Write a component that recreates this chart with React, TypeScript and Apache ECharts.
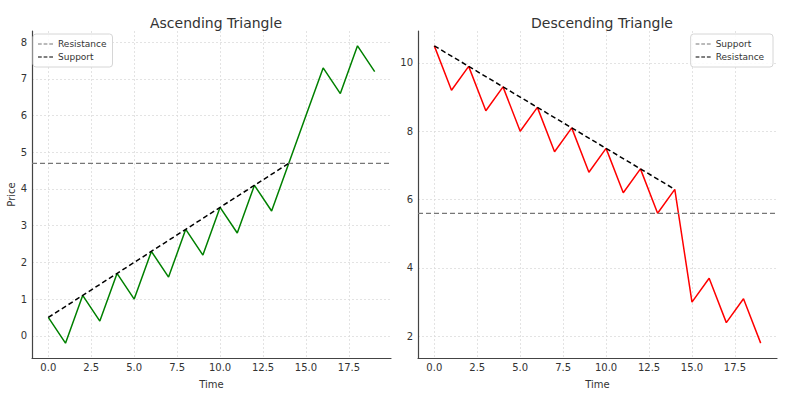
import React, { useEffect, useRef } from "react";
import * as echarts from "echarts";

const time = [0, 1, 2, 3, 4, 5, 6, 7, 8, 9, 10, 11, 12, 13, 14, 15, 16, 17, 18, 19];
const ascPrice = [0.5, -0.2, 1.1, 0.4, 1.7, 1.0, 2.3, 1.6, 2.9, 2.2, 3.5, 2.8, 4.1, 3.4, 4.7, 6.0, 7.3, 6.6, 7.9, 7.2];
const descPrice = [10.5, 9.2, 9.9, 8.6, 9.3, 8.0, 8.7, 7.4, 8.1, 6.8, 7.5, 6.2, 6.9, 5.6, 6.3, 3.0, 3.7, 2.4, 3.1, 1.8];
const ascResistance = 4.7;
const ascSupportStart = [0, 0.5];
const ascSupportEnd = [14, 4.7];
const descSupport = 5.6;
const descResistanceStart = [0, 10.5];
const descResistanceEnd = [14, 6.3];
const xTicks = [0, 2.5, 5, 7.5, 10, 12.5, 15, 17.5];
const ascYTicks = [0, 1, 2, 3, 4, 5, 6, 7, 8];
const descYTicks = [2, 4, 6, 8, 10];

const xMin = -0.95;
const xMax = 19.95;
const ascYMin = -0.605;
const ascYMax = 8.305;
const descYMin = 1.365;
const descYMax = 10.935;

const FONT = "DejaVu Sans";
const TXT = "#333";
const DASH_ICON = "path://M0,0h4v1h-4zM6,0h4v1h-4zM12,0h4v1h-4z";

export default function App() {
  const ref = useRef<HTMLDivElement>(null);
  useEffect(() => {
    const chart = echarts.init(ref.current!, null, { renderer: "svg" });
    const splitLine = { show: true, lineStyle: { color: "#dcdcdc", type: [2, 2], width: 0.8 } };
    const axisLine = { show: true, onZero: false, lineStyle: { color: "#444", width: 1.2 } };
    const mkX = (gridIndex: number) => ({
      type: "value",
      gridIndex,
      min: xMin,
      max: xMax,
      name: "Time",
      nameLocation: "middle",
      nameGap: 21,
      nameTextStyle: { fontFamily: FONT, fontSize: 10, color: TXT },
      axisLine,
      axisTick: { show: false, customValues: xTicks },
      axisLabel: {
        customValues: xTicks,
        formatter: (v: number) => v.toFixed(1),
        fontFamily: FONT,
        fontSize: 10,
        color: TXT,
        margin: 4,
      },
      splitLine,
    });
    const mkY = (gridIndex: number, min: number, max: number, ticks: number[], name: string) => ({
      type: "value",
      gridIndex,
      min,
      max,
      name,
      nameLocation: "middle",
      nameGap: 15,
      nameRotate: 90,
      nameTextStyle: { fontFamily: FONT, fontSize: 10, color: TXT },
      axisLine,
      axisTick: { show: false, customValues: ticks },
      axisLabel: {
        customValues: ticks,
        formatter: (v: number) => String(v),
        fontFamily: FONT,
        fontSize: 10,
        color: TXT,
        margin: 5,
      },
      splitLine,
    });
    const legendBase = {
      orient: "vertical",
      top: 34,
      padding: [5, 6, 5, 5],
      itemGap: 3,
      itemWidth: 15,
      itemHeight: 1.6,
      icon: DASH_ICON,
      backgroundColor: "rgba(255,255,255,0.85)",
      borderColor: "#d6d6d6",
      borderWidth: 1,
      borderRadius: 3,
      textStyle: { fontFamily: FONT, fontSize: 9, color: TXT, lineHeight: 10 },
    };
    chart.setOption({
      animation: false,
      textStyle: { fontFamily: FONT },
      title: [
        { text: "Ascending Triangle", left: 211, top: 11, textAlign: "center", textStyle: { fontFamily: FONT, fontSize: 14, fontWeight: "normal", color: TXT } },
        { text: "Descending Triangle", left: 597, top: 11, textAlign: "center", textStyle: { fontFamily: FONT, fontSize: 14, fontWeight: "normal", color: TXT } },
      ],
      grid: [
        { left: 32, right: 412, top: 31, bottom: 39 },
        { left: 418, right: 26, top: 31, bottom: 39 },
      ],
      legend: [
        { ...legendBase, left: 33, data: ["Resistance", "Support"] },
        { ...legendBase, right: 30, data: ["Support ", "Resistance "] },
      ],
      xAxis: [mkX(0), mkX(1)],
      yAxis: [mkY(0, ascYMin, ascYMax, ascYTicks, "Price"), mkY(1, descYMin, descYMax, descYTicks, "")],
      series: [
        {
          type: "line", name: "Price A", xAxisIndex: 0, yAxisIndex: 0, symbol: "none",
          data: time.map((t, i) => [t, ascPrice[i]]),
          lineStyle: { color: "#008000", width: 1.5 }, itemStyle: { color: "#008000" },
        },
        {
          type: "line", name: "Resistance", xAxisIndex: 0, yAxisIndex: 0, symbol: "none",
          data: [[xMin, ascResistance], [xMax, ascResistance]],
          lineStyle: { color: "#777", width: 1.3, type: [5, 3] }, itemStyle: { color: "#777" },
        },
        {
          type: "line", name: "Support", xAxisIndex: 0, yAxisIndex: 0, symbol: "none",
          data: [ascSupportStart, ascSupportEnd],
          lineStyle: { color: "#000", width: 1.5, type: [5, 3] }, itemStyle: { color: "#000" },
        },
        {
          type: "line", name: "Price D", xAxisIndex: 1, yAxisIndex: 1, symbol: "none",
          data: time.map((t, i) => [t, descPrice[i]]),
          lineStyle: { color: "#ff0000", width: 1.5 }, itemStyle: { color: "#ff0000" },
        },
        {
          type: "line", name: "Support ", xAxisIndex: 1, yAxisIndex: 1, symbol: "none",
          data: [[xMin, descSupport], [xMax, descSupport]],
          lineStyle: { color: "#777", width: 1.3, type: [5, 3] }, itemStyle: { color: "#777" },
        },
        {
          type: "line", name: "Resistance ", xAxisIndex: 1, yAxisIndex: 1, symbol: "none",
          data: [descResistanceStart, descResistanceEnd],
          lineStyle: { color: "#000", width: 1.5, type: [5, 3] }, itemStyle: { color: "#000" },
        },
      ],
    });
    return () => chart.dispose();
  }, []);
  return <div ref={ref} style={{ width: 803, height: 397, position: "absolute", left: 0, top: 0 }} />;
}
